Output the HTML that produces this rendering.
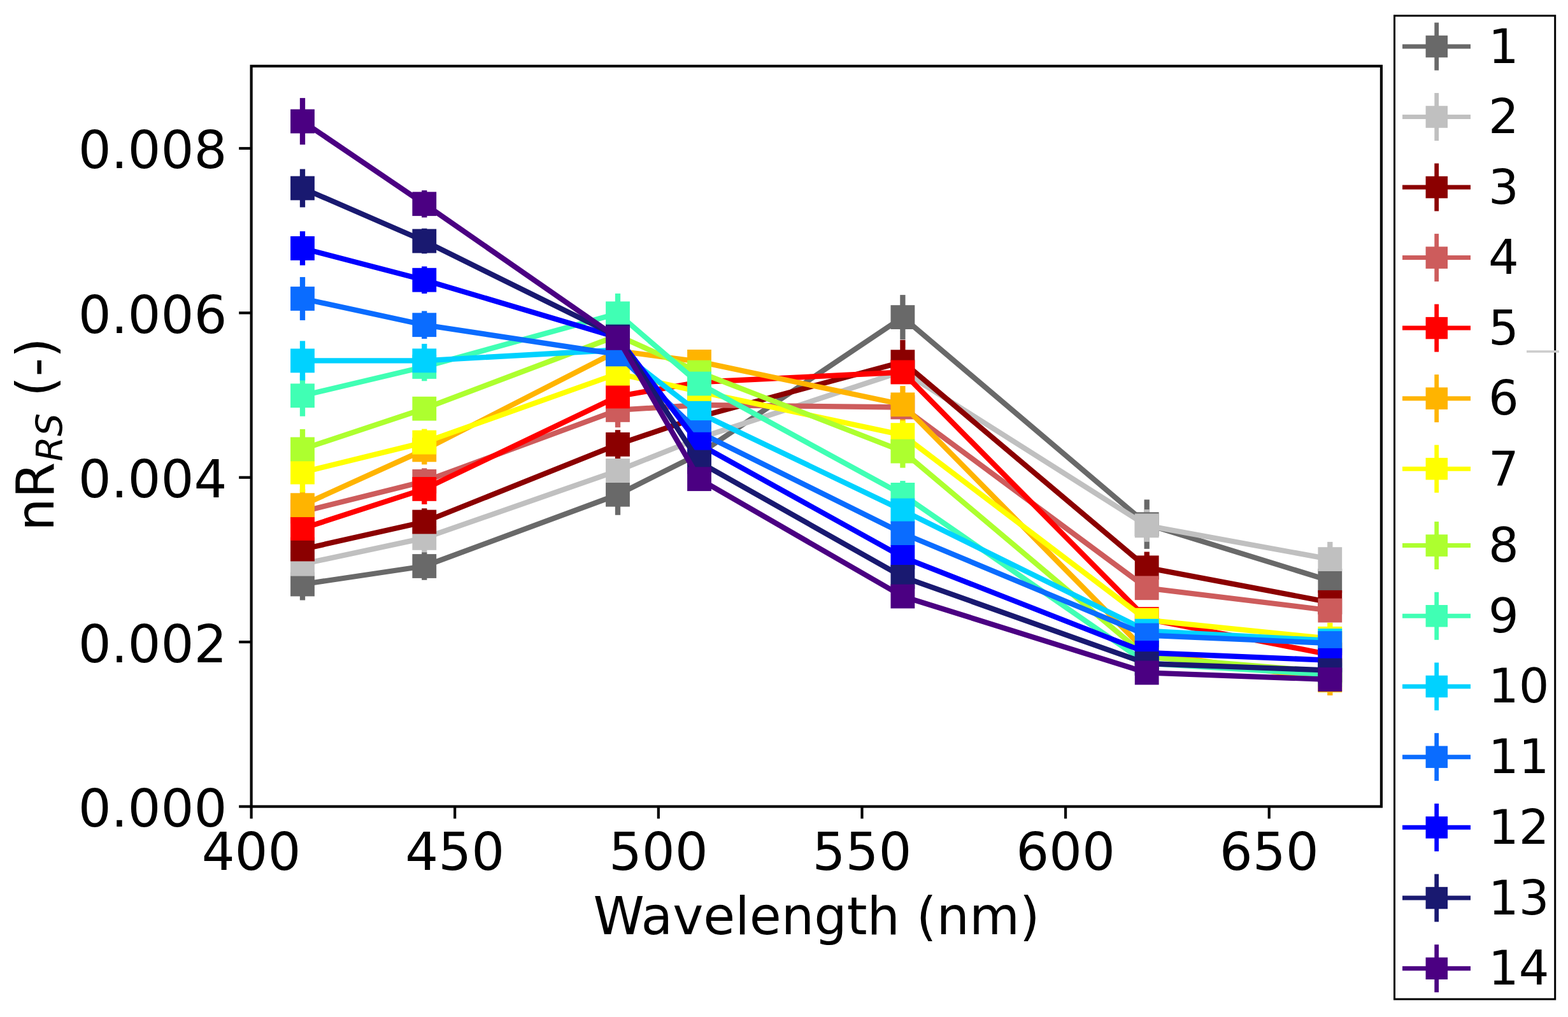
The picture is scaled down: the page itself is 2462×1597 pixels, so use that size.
<!DOCTYPE html>
<html><head><meta charset="utf-8"><title>nRrs spectra</title>
<style>
html,body{margin:0;padding:0;background:#fff;}
svg{display:block;}
text{font-family:"DejaVu Sans","Liberation Sans",sans-serif;fill:#000;}
</style></head><body>
<svg width="2462" height="1597" viewBox="0 0 2462 1597">
<rect x="0" y="0" width="2462" height="1597" fill="#fff"/>
<g stroke-linecap="butt">
<line x1="475" y1="892.5" x2="475" y2="942.5" stroke="#696969" stroke-width="8.3"/>
<line x1="666.3" y1="867.2" x2="666.3" y2="910.8" stroke="#696969" stroke-width="8.3"/>
<line x1="970" y1="744.75" x2="970" y2="808.75" stroke="#696969" stroke-width="8.3"/>
<line x1="1098" y1="697.6" x2="1098" y2="727.6" stroke="#696969" stroke-width="8.3"/>
<line x1="1417.4" y1="463.1" x2="1417.4" y2="533.1" stroke="#696969" stroke-width="8.3"/>
<line x1="1800.7" y1="784.5" x2="1800.7" y2="861.9" stroke="#696969" stroke-width="8.3"/>
<line x1="2088.3" y1="897" x2="2088.3" y2="927" stroke="#696969" stroke-width="8.3"/>
<line x1="475" y1="860.7" x2="475" y2="910.7" stroke="#c0c0c0" stroke-width="8.3"/>
<line x1="666.3" y1="822.9" x2="666.3" y2="866.9" stroke="#c0c0c0" stroke-width="8.3"/>
<line x1="970" y1="714.05" x2="970" y2="764.05" stroke="#c0c0c0" stroke-width="8.3"/>
<line x1="1098" y1="673" x2="1098" y2="703" stroke="#c0c0c0" stroke-width="8.3"/>
<line x1="1417.4" y1="568" x2="1417.4" y2="598" stroke="#c0c0c0" stroke-width="8.3"/>
<line x1="1800.7" y1="800" x2="1800.7" y2="850.8" stroke="#c0c0c0" stroke-width="8.3"/>
<line x1="2088.3" y1="850.9" x2="2088.3" y2="905.3" stroke="#c0c0c0" stroke-width="8.3"/>
<line x1="475" y1="837.5" x2="475" y2="887.5" stroke="#8b0000" stroke-width="8.3"/>
<line x1="666.3" y1="798.3" x2="666.3" y2="840.7" stroke="#8b0000" stroke-width="8.3"/>
<line x1="970" y1="675.2" x2="970" y2="720.6" stroke="#8b0000" stroke-width="8.3"/>
<line x1="1098" y1="639.5" x2="1098" y2="669.5" stroke="#8b0000" stroke-width="8.3"/>
<line x1="1417.4" y1="533.8" x2="1417.4" y2="602.6" stroke="#8b0000" stroke-width="8.3"/>
<line x1="1800.7" y1="866.5" x2="1800.7" y2="916.1" stroke="#8b0000" stroke-width="8.3"/>
<line x1="2088.3" y1="930.8" x2="2088.3" y2="960.8" stroke="#8b0000" stroke-width="8.3"/>
<line x1="475" y1="778.5" x2="475" y2="828.5" stroke="#cd5c5c" stroke-width="8.3"/>
<line x1="666.3" y1="735.3" x2="666.3" y2="776.5" stroke="#cd5c5c" stroke-width="8.3"/>
<line x1="970" y1="616.6" x2="970" y2="671.2" stroke="#cd5c5c" stroke-width="8.3"/>
<line x1="1098" y1="621" x2="1098" y2="651" stroke="#cd5c5c" stroke-width="8.3"/>
<line x1="1417.4" y1="624.5" x2="1417.4" y2="654.5" stroke="#cd5c5c" stroke-width="8.3"/>
<line x1="1800.7" y1="908.3" x2="1800.7" y2="938.3" stroke="#cd5c5c" stroke-width="8.3"/>
<line x1="2088.3" y1="943.6" x2="2088.3" y2="973.6" stroke="#cd5c5c" stroke-width="8.3"/>
<line x1="475" y1="804.9" x2="475" y2="854.9" stroke="#ff0000" stroke-width="8.3"/>
<line x1="666.3" y1="743.9" x2="666.3" y2="791.9" stroke="#ff0000" stroke-width="8.3"/>
<line x1="970" y1="597.5" x2="970" y2="647.5" stroke="#ff0000" stroke-width="8.3"/>
<line x1="1098" y1="585" x2="1098" y2="615" stroke="#ff0000" stroke-width="8.3"/>
<line x1="1417.4" y1="569.5" x2="1417.4" y2="599.5" stroke="#ff0000" stroke-width="8.3"/>
<line x1="1800.7" y1="957" x2="1800.7" y2="987" stroke="#ff0000" stroke-width="8.3"/>
<line x1="2088.3" y1="1013" x2="2088.3" y2="1043" stroke="#ff0000" stroke-width="8.3"/>
<line x1="475" y1="768.2" x2="475" y2="818.2" stroke="#ffb400" stroke-width="8.3"/>
<line x1="666.3" y1="683.4" x2="666.3" y2="729.4" stroke="#ffb400" stroke-width="8.3"/>
<line x1="970" y1="526" x2="970" y2="576" stroke="#ffb400" stroke-width="8.3"/>
<line x1="1098" y1="552.9" x2="1098" y2="582.9" stroke="#ffb400" stroke-width="8.3"/>
<line x1="1417.4" y1="606.1" x2="1417.4" y2="664.5" stroke="#ffb400" stroke-width="8.3"/>
<line x1="1800.7" y1="1009" x2="1800.7" y2="1039" stroke="#ffb400" stroke-width="8.3"/>
<line x1="2088.3" y1="1044.6" x2="2088.3" y2="1092" stroke="#ffb400" stroke-width="8.3"/>
<line x1="475" y1="710" x2="475" y2="773.2" stroke="#ffff00" stroke-width="8.3"/>
<line x1="666.3" y1="673.6" x2="666.3" y2="715.6" stroke="#ffff00" stroke-width="8.3"/>
<line x1="970" y1="561.6" x2="970" y2="611.6" stroke="#ffff00" stroke-width="8.3"/>
<line x1="1098" y1="600" x2="1098" y2="630" stroke="#ffff00" stroke-width="8.3"/>
<line x1="1417.4" y1="660.5" x2="1417.4" y2="705.7" stroke="#ffff00" stroke-width="8.3"/>
<line x1="1800.7" y1="958.7" x2="1800.7" y2="988.7" stroke="#ffff00" stroke-width="8.3"/>
<line x1="2088.3" y1="977.8" x2="2088.3" y2="1027.8" stroke="#ffff00" stroke-width="8.3"/>
<line x1="475" y1="673.9" x2="475" y2="736.9" stroke="#adff2f" stroke-width="8.3"/>
<line x1="666.3" y1="623.7" x2="666.3" y2="659.7" stroke="#adff2f" stroke-width="8.3"/>
<line x1="970" y1="502" x2="970" y2="552" stroke="#adff2f" stroke-width="8.3"/>
<line x1="1098" y1="569.6" x2="1098" y2="599.6" stroke="#adff2f" stroke-width="8.3"/>
<line x1="1417.4" y1="682.6" x2="1417.4" y2="734.6" stroke="#adff2f" stroke-width="8.3"/>
<line x1="1800.7" y1="1016.6" x2="1800.7" y2="1046.6" stroke="#adff2f" stroke-width="8.3"/>
<line x1="2088.3" y1="1040" x2="2088.3" y2="1070" stroke="#adff2f" stroke-width="8.3"/>
<line x1="475" y1="588.9" x2="475" y2="653.7" stroke="#40ffb4" stroke-width="8.3"/>
<line x1="666.3" y1="553.7" x2="666.3" y2="598.3" stroke="#40ffb4" stroke-width="8.3"/>
<line x1="970" y1="460.9" x2="970" y2="523.7" stroke="#40ffb4" stroke-width="8.3"/>
<line x1="1098" y1="587.5" x2="1098" y2="617.5" stroke="#40ffb4" stroke-width="8.3"/>
<line x1="1417.4" y1="755.1" x2="1417.4" y2="798.7" stroke="#40ffb4" stroke-width="8.3"/>
<line x1="1800.7" y1="1026.5" x2="1800.7" y2="1056.5" stroke="#40ffb4" stroke-width="8.3"/>
<line x1="2088.3" y1="1044.5" x2="2088.3" y2="1074.5" stroke="#40ffb4" stroke-width="8.3"/>
<line x1="475" y1="535.4" x2="475" y2="597.4" stroke="#00d2ff" stroke-width="8.3"/>
<line x1="666.3" y1="539.9" x2="666.3" y2="592.7" stroke="#00d2ff" stroke-width="8.3"/>
<line x1="970" y1="524.5" x2="970" y2="574.5" stroke="#00d2ff" stroke-width="8.3"/>
<line x1="1098" y1="633.7" x2="1098" y2="663.7" stroke="#00d2ff" stroke-width="8.3"/>
<line x1="1417.4" y1="786.5" x2="1417.4" y2="816.5" stroke="#00d2ff" stroke-width="8.3"/>
<line x1="1800.7" y1="975.7" x2="1800.7" y2="1005.7" stroke="#00d2ff" stroke-width="8.3"/>
<line x1="2088.3" y1="991" x2="2088.3" y2="1021" stroke="#00d2ff" stroke-width="8.3"/>
<line x1="475" y1="435.1" x2="475" y2="502.9" stroke="#0a6cff" stroke-width="8.3"/>
<line x1="666.3" y1="488.4" x2="666.3" y2="532" stroke="#0a6cff" stroke-width="8.3"/>
<line x1="970" y1="531.4" x2="970" y2="581.4" stroke="#0a6cff" stroke-width="8.3"/>
<line x1="1098" y1="664" x2="1098" y2="694" stroke="#0a6cff" stroke-width="8.3"/>
<line x1="1417.4" y1="822.5" x2="1417.4" y2="852.5" stroke="#0a6cff" stroke-width="8.3"/>
<line x1="1800.7" y1="982.5" x2="1800.7" y2="1012.5" stroke="#0a6cff" stroke-width="8.3"/>
<line x1="2088.3" y1="995" x2="2088.3" y2="1025" stroke="#0a6cff" stroke-width="8.3"/>
<line x1="475" y1="363.2" x2="475" y2="416.6" stroke="#0000ff" stroke-width="8.3"/>
<line x1="666.3" y1="418.4" x2="666.3" y2="461" stroke="#0000ff" stroke-width="8.3"/>
<line x1="970" y1="505" x2="970" y2="555" stroke="#0000ff" stroke-width="8.3"/>
<line x1="1098" y1="682.7" x2="1098" y2="712.7" stroke="#0000ff" stroke-width="8.3"/>
<line x1="1417.4" y1="859.9" x2="1417.4" y2="889.9" stroke="#0000ff" stroke-width="8.3"/>
<line x1="1800.7" y1="1010" x2="1800.7" y2="1040" stroke="#0000ff" stroke-width="8.3"/>
<line x1="2088.3" y1="1021.8" x2="2088.3" y2="1051.8" stroke="#0000ff" stroke-width="8.3"/>
<line x1="475" y1="265.5" x2="475" y2="325.5" stroke="#191970" stroke-width="8.3"/>
<line x1="666.3" y1="358.75" x2="666.3" y2="398.25" stroke="#191970" stroke-width="8.3"/>
<line x1="970" y1="503.5" x2="970" y2="553.5" stroke="#191970" stroke-width="8.3"/>
<line x1="1098" y1="710.6" x2="1098" y2="740.6" stroke="#191970" stroke-width="8.3"/>
<line x1="1417.4" y1="890.9" x2="1417.4" y2="920.9" stroke="#191970" stroke-width="8.3"/>
<line x1="1800.7" y1="1027" x2="1800.7" y2="1057" stroke="#191970" stroke-width="8.3"/>
<line x1="2088.3" y1="1037.6" x2="2088.3" y2="1067.6" stroke="#191970" stroke-width="8.3"/>
<line x1="475" y1="153.9" x2="475" y2="227.1" stroke="#4b0082" stroke-width="8.3"/>
<line x1="666.3" y1="298.9" x2="666.3" y2="341.5" stroke="#4b0082" stroke-width="8.3"/>
<line x1="970" y1="505.9" x2="970" y2="555.9" stroke="#4b0082" stroke-width="8.3"/>
<line x1="1098" y1="737.2" x2="1098" y2="767.2" stroke="#4b0082" stroke-width="8.3"/>
<line x1="1417.4" y1="921.5" x2="1417.4" y2="951.5" stroke="#4b0082" stroke-width="8.3"/>
<line x1="1800.7" y1="1041.4" x2="1800.7" y2="1071.4" stroke="#4b0082" stroke-width="8.3"/>
<line x1="2088.3" y1="1052" x2="2088.3" y2="1082" stroke="#4b0082" stroke-width="8.3"/>
</g>
<polyline points="475,917.5 666.3,889 970,776.75 1098,712.6 1417.4,498.1 1800.7,823.2 2088.3,912" fill="none" stroke="#696969" stroke-width="8.3" stroke-linejoin="round" stroke-linecap="butt"/>
<rect x="456.1" y="898.6" width="37.8" height="37.8" fill="#696969"/>
<rect x="647.4" y="870.1" width="37.8" height="37.8" fill="#696969"/>
<rect x="951.1" y="757.85" width="37.8" height="37.8" fill="#696969"/>
<rect x="1079.1" y="693.7" width="37.8" height="37.8" fill="#696969"/>
<rect x="1398.5" y="479.2" width="37.8" height="37.8" fill="#696969"/>
<rect x="1781.8" y="804.3" width="37.8" height="37.8" fill="#696969"/>
<rect x="2069.4" y="893.1" width="37.8" height="37.8" fill="#696969"/>
<polyline points="475,885.7 666.3,844.9 970,739.05 1098,688 1417.4,583 1800.7,825.4 2088.3,878.1" fill="none" stroke="#c0c0c0" stroke-width="8.3" stroke-linejoin="round" stroke-linecap="butt"/>
<rect x="456.1" y="866.8" width="37.8" height="37.8" fill="#c0c0c0"/>
<rect x="647.4" y="826" width="37.8" height="37.8" fill="#c0c0c0"/>
<rect x="951.1" y="720.15" width="37.8" height="37.8" fill="#c0c0c0"/>
<rect x="1079.1" y="669.1" width="37.8" height="37.8" fill="#c0c0c0"/>
<rect x="1398.5" y="564.1" width="37.8" height="37.8" fill="#c0c0c0"/>
<rect x="1781.8" y="806.5" width="37.8" height="37.8" fill="#c0c0c0"/>
<rect x="2069.4" y="859.2" width="37.8" height="37.8" fill="#c0c0c0"/>
<polyline points="475,862.5 666.3,819.5 970,697.9 1098,654.5 1417.4,568.2 1800.7,891.3 2088.3,945.8" fill="none" stroke="#8b0000" stroke-width="8.3" stroke-linejoin="round" stroke-linecap="butt"/>
<rect x="456.1" y="843.6" width="37.8" height="37.8" fill="#8b0000"/>
<rect x="647.4" y="800.6" width="37.8" height="37.8" fill="#8b0000"/>
<rect x="951.1" y="679" width="37.8" height="37.8" fill="#8b0000"/>
<rect x="1079.1" y="635.6" width="37.8" height="37.8" fill="#8b0000"/>
<rect x="1398.5" y="549.3" width="37.8" height="37.8" fill="#8b0000"/>
<rect x="1781.8" y="872.4" width="37.8" height="37.8" fill="#8b0000"/>
<rect x="2069.4" y="926.9" width="37.8" height="37.8" fill="#8b0000"/>
<polyline points="475,803.5 666.3,755.9 970,643.9 1098,636 1417.4,639.5 1800.7,923.3 2088.3,958.6" fill="none" stroke="#cd5c5c" stroke-width="8.3" stroke-linejoin="round" stroke-linecap="butt"/>
<rect x="456.1" y="784.6" width="37.8" height="37.8" fill="#cd5c5c"/>
<rect x="647.4" y="737" width="37.8" height="37.8" fill="#cd5c5c"/>
<rect x="951.1" y="625" width="37.8" height="37.8" fill="#cd5c5c"/>
<rect x="1079.1" y="617.1" width="37.8" height="37.8" fill="#cd5c5c"/>
<rect x="1398.5" y="620.6" width="37.8" height="37.8" fill="#cd5c5c"/>
<rect x="1781.8" y="904.4" width="37.8" height="37.8" fill="#cd5c5c"/>
<rect x="2069.4" y="939.7" width="37.8" height="37.8" fill="#cd5c5c"/>
<polyline points="475,829.9 666.3,767.9 970,622.5 1098,600 1417.4,584.5 1800.7,972 2088.3,1028" fill="none" stroke="#ff0000" stroke-width="8.3" stroke-linejoin="round" stroke-linecap="butt"/>
<rect x="456.1" y="811" width="37.8" height="37.8" fill="#ff0000"/>
<rect x="647.4" y="749" width="37.8" height="37.8" fill="#ff0000"/>
<rect x="951.1" y="603.6" width="37.8" height="37.8" fill="#ff0000"/>
<rect x="1079.1" y="581.1" width="37.8" height="37.8" fill="#ff0000"/>
<rect x="1398.5" y="565.6" width="37.8" height="37.8" fill="#ff0000"/>
<rect x="1781.8" y="953.1" width="37.8" height="37.8" fill="#ff0000"/>
<rect x="2069.4" y="1009.1" width="37.8" height="37.8" fill="#ff0000"/>
<polyline points="475,793.2 666.3,706.4 970,551 1098,567.9 1417.4,635.3 1800.7,1024 2088.3,1068.3" fill="none" stroke="#ffb400" stroke-width="8.3" stroke-linejoin="round" stroke-linecap="butt"/>
<rect x="456.1" y="774.3" width="37.8" height="37.8" fill="#ffb400"/>
<rect x="647.4" y="687.5" width="37.8" height="37.8" fill="#ffb400"/>
<rect x="951.1" y="532.1" width="37.8" height="37.8" fill="#ffb400"/>
<rect x="1079.1" y="549" width="37.8" height="37.8" fill="#ffb400"/>
<rect x="1398.5" y="616.4" width="37.8" height="37.8" fill="#ffb400"/>
<rect x="1781.8" y="1005.1" width="37.8" height="37.8" fill="#ffb400"/>
<rect x="2069.4" y="1049.4" width="37.8" height="37.8" fill="#ffb400"/>
<polyline points="475,741.6 666.3,694.6 970,586.6 1098,615 1417.4,683.1 1800.7,973.7 2088.3,1002.8" fill="none" stroke="#ffff00" stroke-width="8.3" stroke-linejoin="round" stroke-linecap="butt"/>
<rect x="456.1" y="722.7" width="37.8" height="37.8" fill="#ffff00"/>
<rect x="647.4" y="675.7" width="37.8" height="37.8" fill="#ffff00"/>
<rect x="951.1" y="567.7" width="37.8" height="37.8" fill="#ffff00"/>
<rect x="1079.1" y="596.1" width="37.8" height="37.8" fill="#ffff00"/>
<rect x="1398.5" y="664.2" width="37.8" height="37.8" fill="#ffff00"/>
<rect x="1781.8" y="954.8" width="37.8" height="37.8" fill="#ffff00"/>
<rect x="2069.4" y="983.9" width="37.8" height="37.8" fill="#ffff00"/>
<polyline points="475,705.4 666.3,641.7 970,527 1098,584.6 1417.4,708.6 1800.7,1031.6 2088.3,1055" fill="none" stroke="#adff2f" stroke-width="8.3" stroke-linejoin="round" stroke-linecap="butt"/>
<rect x="456.1" y="686.5" width="37.8" height="37.8" fill="#adff2f"/>
<rect x="647.4" y="622.8" width="37.8" height="37.8" fill="#adff2f"/>
<rect x="951.1" y="508.1" width="37.8" height="37.8" fill="#adff2f"/>
<rect x="1079.1" y="565.7" width="37.8" height="37.8" fill="#adff2f"/>
<rect x="1398.5" y="689.7" width="37.8" height="37.8" fill="#adff2f"/>
<rect x="1781.8" y="1012.7" width="37.8" height="37.8" fill="#adff2f"/>
<rect x="2069.4" y="1036.1" width="37.8" height="37.8" fill="#adff2f"/>
<polyline points="475,621.3 666.3,576 970,492.3 1098,602.5 1417.4,776.9 1800.7,1041.5 2088.3,1059.5" fill="none" stroke="#40ffb4" stroke-width="8.3" stroke-linejoin="round" stroke-linecap="butt"/>
<rect x="456.1" y="602.4" width="37.8" height="37.8" fill="#40ffb4"/>
<rect x="647.4" y="557.1" width="37.8" height="37.8" fill="#40ffb4"/>
<rect x="951.1" y="473.4" width="37.8" height="37.8" fill="#40ffb4"/>
<rect x="1079.1" y="583.6" width="37.8" height="37.8" fill="#40ffb4"/>
<rect x="1398.5" y="758" width="37.8" height="37.8" fill="#40ffb4"/>
<rect x="1781.8" y="1022.6" width="37.8" height="37.8" fill="#40ffb4"/>
<rect x="2069.4" y="1040.6" width="37.8" height="37.8" fill="#40ffb4"/>
<polyline points="475,566.4 666.3,566.3 970,549.5 1098,648.7 1417.4,801.5 1800.7,990.7 2088.3,1006" fill="none" stroke="#00d2ff" stroke-width="8.3" stroke-linejoin="round" stroke-linecap="butt"/>
<rect x="456.1" y="547.5" width="37.8" height="37.8" fill="#00d2ff"/>
<rect x="647.4" y="547.4" width="37.8" height="37.8" fill="#00d2ff"/>
<rect x="951.1" y="530.6" width="37.8" height="37.8" fill="#00d2ff"/>
<rect x="1079.1" y="629.8" width="37.8" height="37.8" fill="#00d2ff"/>
<rect x="1398.5" y="782.6" width="37.8" height="37.8" fill="#00d2ff"/>
<rect x="1781.8" y="971.8" width="37.8" height="37.8" fill="#00d2ff"/>
<rect x="2069.4" y="987.1" width="37.8" height="37.8" fill="#00d2ff"/>
<polyline points="475,469 666.3,510.2 970,556.4 1098,679 1417.4,837.5 1800.7,997.5 2088.3,1010" fill="none" stroke="#0a6cff" stroke-width="8.3" stroke-linejoin="round" stroke-linecap="butt"/>
<rect x="456.1" y="450.1" width="37.8" height="37.8" fill="#0a6cff"/>
<rect x="647.4" y="491.3" width="37.8" height="37.8" fill="#0a6cff"/>
<rect x="951.1" y="537.5" width="37.8" height="37.8" fill="#0a6cff"/>
<rect x="1079.1" y="660.1" width="37.8" height="37.8" fill="#0a6cff"/>
<rect x="1398.5" y="818.6" width="37.8" height="37.8" fill="#0a6cff"/>
<rect x="1781.8" y="978.6" width="37.8" height="37.8" fill="#0a6cff"/>
<rect x="2069.4" y="991.1" width="37.8" height="37.8" fill="#0a6cff"/>
<polyline points="475,389.9 666.3,439.7 970,530 1098,697.7 1417.4,874.9 1800.7,1025 2088.3,1036.8" fill="none" stroke="#0000ff" stroke-width="8.3" stroke-linejoin="round" stroke-linecap="butt"/>
<rect x="456.1" y="371" width="37.8" height="37.8" fill="#0000ff"/>
<rect x="647.4" y="420.8" width="37.8" height="37.8" fill="#0000ff"/>
<rect x="951.1" y="511.1" width="37.8" height="37.8" fill="#0000ff"/>
<rect x="1079.1" y="678.8" width="37.8" height="37.8" fill="#0000ff"/>
<rect x="1398.5" y="856" width="37.8" height="37.8" fill="#0000ff"/>
<rect x="1781.8" y="1006.1" width="37.8" height="37.8" fill="#0000ff"/>
<rect x="2069.4" y="1017.9" width="37.8" height="37.8" fill="#0000ff"/>
<polyline points="475,295.5 666.3,378.5 970,528.5 1098,725.6 1417.4,905.9 1800.7,1042 2088.3,1052.6" fill="none" stroke="#191970" stroke-width="8.3" stroke-linejoin="round" stroke-linecap="butt"/>
<rect x="456.1" y="276.6" width="37.8" height="37.8" fill="#191970"/>
<rect x="647.4" y="359.6" width="37.8" height="37.8" fill="#191970"/>
<rect x="951.1" y="509.6" width="37.8" height="37.8" fill="#191970"/>
<rect x="1079.1" y="706.7" width="37.8" height="37.8" fill="#191970"/>
<rect x="1398.5" y="887" width="37.8" height="37.8" fill="#191970"/>
<rect x="1781.8" y="1023.1" width="37.8" height="37.8" fill="#191970"/>
<rect x="2069.4" y="1033.7" width="37.8" height="37.8" fill="#191970"/>
<polyline points="475,190.5 666.3,320.2 970,530.9 1098,752.2 1417.4,936.5 1800.7,1056.4 2088.3,1067" fill="none" stroke="#4b0082" stroke-width="8.3" stroke-linejoin="round" stroke-linecap="butt"/>
<rect x="456.1" y="171.6" width="37.8" height="37.8" fill="#4b0082"/>
<rect x="647.4" y="301.3" width="37.8" height="37.8" fill="#4b0082"/>
<rect x="951.1" y="512" width="37.8" height="37.8" fill="#4b0082"/>
<rect x="1079.1" y="733.3" width="37.8" height="37.8" fill="#4b0082"/>
<rect x="1398.5" y="917.6" width="37.8" height="37.8" fill="#4b0082"/>
<rect x="1781.8" y="1037.5" width="37.8" height="37.8" fill="#4b0082"/>
<rect x="2069.4" y="1048.1" width="37.8" height="37.8" fill="#4b0082"/>
<rect x="394.6" y="103.8" width="1774.3" height="1162.7" fill="none" stroke="#000" stroke-width="4.2" stroke-linejoin="miter"/>
<line x1="394.6" y1="1266.5" x2="394.6" y2="1285.5" stroke="#000" stroke-width="4.2"/>
<text x="394.6" y="1366.4" font-size="81.7" text-anchor="middle">400</text>
<line x1="714.2" y1="1266.5" x2="714.2" y2="1285.5" stroke="#000" stroke-width="4.2"/>
<text x="714.2" y="1366.4" font-size="81.7" text-anchor="middle">450</text>
<line x1="1033.85" y1="1266.5" x2="1033.85" y2="1285.5" stroke="#000" stroke-width="4.2"/>
<text x="1033.85" y="1366.4" font-size="81.7" text-anchor="middle">500</text>
<line x1="1353.5" y1="1266.5" x2="1353.5" y2="1285.5" stroke="#000" stroke-width="4.2"/>
<text x="1353.5" y="1366.4" font-size="81.7" text-anchor="middle">550</text>
<line x1="1673.1" y1="1266.5" x2="1673.1" y2="1285.5" stroke="#000" stroke-width="4.2"/>
<text x="1673.1" y="1366.4" font-size="81.7" text-anchor="middle">600</text>
<line x1="1992.7" y1="1266.5" x2="1992.7" y2="1285.5" stroke="#000" stroke-width="4.2"/>
<text x="1992.7" y="1366.4" font-size="81.7" text-anchor="middle">650</text>
<line x1="375.2" y1="1266.5" x2="394.6" y2="1266.5" stroke="#000" stroke-width="4.2"/>
<text x="356.5" y="1297.9" font-size="81.7" text-anchor="end">0.000</text>
<line x1="375.2" y1="1008.12" x2="394.6" y2="1008.12" stroke="#000" stroke-width="4.2"/>
<text x="356.5" y="1039.52" font-size="81.7" text-anchor="end">0.002</text>
<line x1="375.2" y1="749.74" x2="394.6" y2="749.74" stroke="#000" stroke-width="4.2"/>
<text x="356.5" y="781.14" font-size="81.7" text-anchor="end">0.004</text>
<line x1="375.2" y1="491.36" x2="394.6" y2="491.36" stroke="#000" stroke-width="4.2"/>
<text x="356.5" y="522.76" font-size="81.7" text-anchor="end">0.006</text>
<line x1="375.2" y1="232.98" x2="394.6" y2="232.98" stroke="#000" stroke-width="4.2"/>
<text x="356.5" y="264.38" font-size="81.7" text-anchor="end">0.008</text>
<text x="1282.1" y="1466.8" font-size="81.2" text-anchor="middle">Wavelength (nm)</text>
<text transform="translate(84.1,833.9) rotate(-90)" font-size="81.4">nR<tspan font-size="56.8" font-style="oblique" dx="1.3" dy="13.6">RS</tspan><tspan dy="-13.6"> (-)</tspan></text>
<rect x="2189.5" y="24.7" width="252.2" height="1544.3" fill="#fff" stroke="#000" stroke-width="3"/>
<line x1="2202" y1="73" x2="2309" y2="73" stroke="#696969" stroke-width="7"/>
<line x1="2255.7" y1="35.5" x2="2255.7" y2="110.5" stroke="#696969" stroke-width="6.8"/>
<rect x="2238.55" y="55.75" width="34.5" height="34.5" fill="#696969"/>
<text x="2337" y="98.5" font-size="75">1</text>
<line x1="2202" y1="183.53" x2="2309" y2="183.53" stroke="#c0c0c0" stroke-width="7"/>
<line x1="2255.7" y1="146.03" x2="2255.7" y2="221.03" stroke="#c0c0c0" stroke-width="6.8"/>
<rect x="2238.55" y="166.28" width="34.5" height="34.5" fill="#c0c0c0"/>
<text x="2337" y="209.03" font-size="75">2</text>
<line x1="2202" y1="294.06" x2="2309" y2="294.06" stroke="#8b0000" stroke-width="7"/>
<line x1="2255.7" y1="256.56" x2="2255.7" y2="331.56" stroke="#8b0000" stroke-width="6.8"/>
<rect x="2238.55" y="276.81" width="34.5" height="34.5" fill="#8b0000"/>
<text x="2337" y="319.56" font-size="75">3</text>
<line x1="2202" y1="404.59" x2="2309" y2="404.59" stroke="#cd5c5c" stroke-width="7"/>
<line x1="2255.7" y1="367.09" x2="2255.7" y2="442.09" stroke="#cd5c5c" stroke-width="6.8"/>
<rect x="2238.55" y="387.34" width="34.5" height="34.5" fill="#cd5c5c"/>
<text x="2337" y="430.09" font-size="75">4</text>
<line x1="2202" y1="515.12" x2="2309" y2="515.12" stroke="#ff0000" stroke-width="7"/>
<line x1="2255.7" y1="477.62" x2="2255.7" y2="552.62" stroke="#ff0000" stroke-width="6.8"/>
<rect x="2238.55" y="497.87" width="34.5" height="34.5" fill="#ff0000"/>
<text x="2337" y="540.62" font-size="75">5</text>
<line x1="2202" y1="625.65" x2="2309" y2="625.65" stroke="#ffb400" stroke-width="7"/>
<line x1="2255.7" y1="588.15" x2="2255.7" y2="663.15" stroke="#ffb400" stroke-width="6.8"/>
<rect x="2238.55" y="608.4" width="34.5" height="34.5" fill="#ffb400"/>
<text x="2337" y="651.15" font-size="75">6</text>
<line x1="2202" y1="736.18" x2="2309" y2="736.18" stroke="#ffff00" stroke-width="7"/>
<line x1="2255.7" y1="698.68" x2="2255.7" y2="773.68" stroke="#ffff00" stroke-width="6.8"/>
<rect x="2238.55" y="718.93" width="34.5" height="34.5" fill="#ffff00"/>
<text x="2337" y="761.68" font-size="75">7</text>
<line x1="2202" y1="856.6" x2="2309" y2="856.6" stroke="#adff2f" stroke-width="7"/>
<line x1="2255.7" y1="819.1" x2="2255.7" y2="894.1" stroke="#adff2f" stroke-width="6.8"/>
<rect x="2238.55" y="839.35" width="34.5" height="34.5" fill="#adff2f"/>
<text x="2337" y="882.1" font-size="75">8</text>
<line x1="2202" y1="967.29" x2="2309" y2="967.29" stroke="#40ffb4" stroke-width="7"/>
<line x1="2255.7" y1="929.79" x2="2255.7" y2="1004.79" stroke="#40ffb4" stroke-width="6.8"/>
<rect x="2238.55" y="950.04" width="34.5" height="34.5" fill="#40ffb4"/>
<text x="2337" y="992.79" font-size="75">9</text>
<line x1="2202" y1="1077.98" x2="2309" y2="1077.98" stroke="#00d2ff" stroke-width="7"/>
<line x1="2255.7" y1="1040.48" x2="2255.7" y2="1115.48" stroke="#00d2ff" stroke-width="6.8"/>
<rect x="2238.55" y="1060.73" width="34.5" height="34.5" fill="#00d2ff"/>
<text x="2337" y="1103.48" font-size="75">10</text>
<line x1="2202" y1="1188.67" x2="2309" y2="1188.67" stroke="#0a6cff" stroke-width="7"/>
<line x1="2255.7" y1="1151.17" x2="2255.7" y2="1226.17" stroke="#0a6cff" stroke-width="6.8"/>
<rect x="2238.55" y="1171.42" width="34.5" height="34.5" fill="#0a6cff"/>
<text x="2337" y="1214.17" font-size="75">11</text>
<line x1="2202" y1="1299.36" x2="2309" y2="1299.36" stroke="#0000ff" stroke-width="7"/>
<line x1="2255.7" y1="1261.86" x2="2255.7" y2="1336.86" stroke="#0000ff" stroke-width="6.8"/>
<rect x="2238.55" y="1282.11" width="34.5" height="34.5" fill="#0000ff"/>
<text x="2337" y="1324.86" font-size="75">12</text>
<line x1="2202" y1="1410.05" x2="2309" y2="1410.05" stroke="#191970" stroke-width="7"/>
<line x1="2255.7" y1="1372.55" x2="2255.7" y2="1447.55" stroke="#191970" stroke-width="6.8"/>
<rect x="2238.55" y="1392.8" width="34.5" height="34.5" fill="#191970"/>
<text x="2337" y="1435.55" font-size="75">13</text>
<line x1="2202" y1="1520.74" x2="2309" y2="1520.74" stroke="#4b0082" stroke-width="7"/>
<line x1="2255.7" y1="1483.24" x2="2255.7" y2="1558.24" stroke="#4b0082" stroke-width="6.8"/>
<rect x="2238.55" y="1503.49" width="34.5" height="34.5" fill="#4b0082"/>
<text x="2337" y="1546.24" font-size="75">14</text>
<line x1="2397" y1="552" x2="2448" y2="552" stroke="#cccccc" stroke-width="3.6"/>
</svg>
</body></html>
